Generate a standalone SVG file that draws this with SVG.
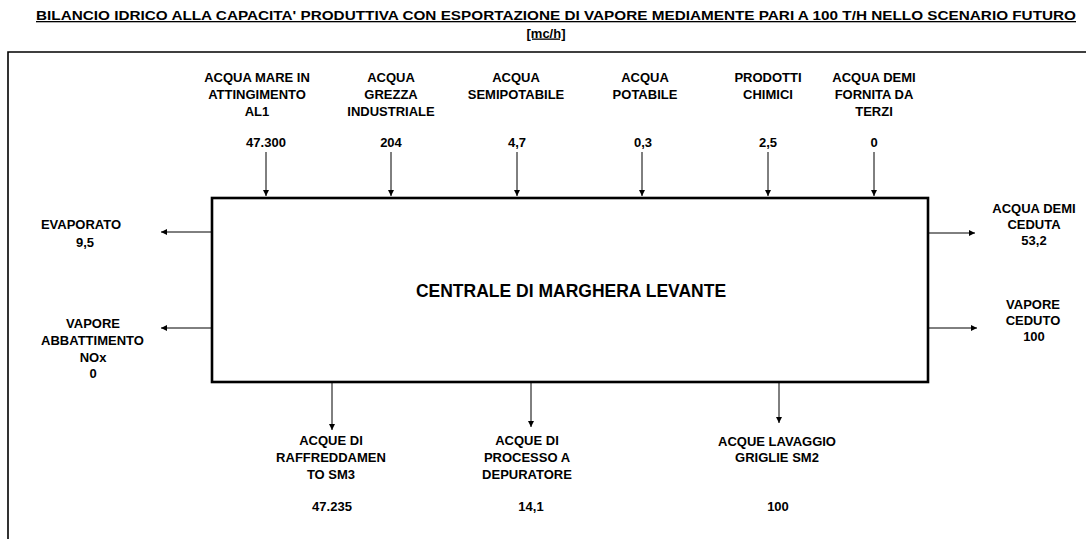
<svg xmlns="http://www.w3.org/2000/svg" width="1086" height="539" viewBox="0 0 1086 539">
<style>
text{font-family:"Liberation Sans",Arial,sans-serif;font-weight:bold;fill:#000;}
.t{font-size:13px;text-anchor:middle;}
.title{font-size:13px;text-anchor:middle;text-decoration:underline;}
.big{font-size:17.5px;text-anchor:middle;}
.c{stroke:#000;stroke-width:1;fill:none;}
</style>
<defs>
<marker id="ah" markerUnits="userSpaceOnUse" markerWidth="7" markerHeight="6" refX="6" refY="3" orient="auto">
<path d="M0,0 L6,3 L0,6 z" fill="#000"/>
</marker>
</defs>
<rect width="1086" height="539" fill="#fff"/>
<g id="title">
<text class="title" x="556" y="20" textLength="1040" lengthAdjust="spacingAndGlyphs">BILANCIO IDRICO ALLA CAPACITA' PRODUTTIVA CON ESPORTAZIONE DI VAPORE MEDIAMENTE PARI A 100 T/H NELLO SCENARIO FUTURO</text>
<text class="title" x="546" y="37.5">[mc/h]</text>
</g>
<path id="frame" d="M8,539 V52 H1086" fill="none" stroke="#000" stroke-width="1.6"/>
<g id="centrale">
<rect x="212" y="198" width="716" height="184" fill="#fff" stroke="#000" stroke-width="2.6"/>
<text class="big" x="571" y="296.5">CENTRALE DI MARGHERA LEVANTE</text>
</g>
<g id="connectors">
<line class="c" x1="266" y1="152" x2="266" y2="196" marker-end="url(#ah)"/>
<line class="c" x1="391" y1="152" x2="391" y2="196" marker-end="url(#ah)"/>
<line class="c" x1="517" y1="152" x2="517" y2="196" marker-end="url(#ah)"/>
<line class="c" x1="642" y1="152" x2="642" y2="196" marker-end="url(#ah)"/>
<line class="c" x1="768" y1="152" x2="768" y2="196" marker-end="url(#ah)"/>
<line class="c" x1="874" y1="152" x2="874" y2="196" marker-end="url(#ah)"/>
<line class="c" x1="211" y1="232" x2="161" y2="232" marker-end="url(#ah)"/>
<line class="c" x1="211" y1="328" x2="161" y2="328" marker-end="url(#ah)"/>
<line class="c" x1="929" y1="233" x2="975" y2="233" marker-end="url(#ah)"/>
<line class="c" x1="929" y1="328" x2="977" y2="328" marker-end="url(#ah)"/>
<line class="c" x1="332" y1="383" x2="332" y2="430" marker-end="url(#ah)"/>
<line class="c" x1="531" y1="383" x2="531" y2="427" marker-end="url(#ah)"/>
<line class="c" x1="779" y1="383" x2="779" y2="423" marker-end="url(#ah)"/>
</g>
<g id="in-acqua-mare">
<text class="t" x="257" y="82">ACQUA MARE IN</text>
<text class="t" x="257" y="99">ATTINGIMENTO</text>
<text class="t" x="257" y="116">AL1</text>
<text class="t" x="266" y="146.5">47.300</text>
</g>
<g id="in-acqua-grezza">
<text class="t" x="391" y="82">ACQUA</text>
<text class="t" x="391" y="99">GREZZA</text>
<text class="t" x="391" y="116">INDUSTRIALE</text>
<text class="t" x="391" y="146.5">204</text>
</g>
<g id="in-semipotabile">
<text class="t" x="516" y="82">ACQUA</text>
<text class="t" x="516" y="99">SEMIPOTABILE</text>
<text class="t" x="517" y="146.5">4,7</text>
</g>
<g id="in-potabile">
<text class="t" x="645" y="82">ACQUA</text>
<text class="t" x="645" y="99">POTABILE</text>
<text class="t" x="643" y="146.5">0,3</text>
</g>
<g id="in-chimici">
<text class="t" x="768" y="82">PRODOTTI</text>
<text class="t" x="768" y="99">CHIMICI</text>
<text class="t" x="768" y="146.5">2,5</text>
</g>
<g id="in-demi-terzi">
<text class="t" x="874" y="82">ACQUA DEMI</text>
<text class="t" x="874" y="99">FORNITA DA</text>
<text class="t" x="874" y="116">TERZI</text>
<text class="t" x="874" y="146.5">0</text>
</g>
<g id="out-evaporato">
<text class="t" x="81" y="229">EVAPORATO</text>
<text class="t" x="85" y="246.5">9,5</text>
</g>
<g id="out-vapore-nox">
<text class="t" x="93" y="328">VAPORE</text>
<text class="t" x="92.5" y="345">ABBATTIMENTO</text>
<text class="t" x="93" y="361.5">NOx</text>
<text class="t" x="93" y="377.5">0</text>
</g>
<g id="out-demi-ceduta">
<text class="t" x="1034" y="213">ACQUA DEMI</text>
<text class="t" x="1034" y="229">CEDUTA</text>
<text class="t" x="1034" y="245">53,2</text>
</g>
<g id="out-vapore-ceduto">
<text class="t" x="1033" y="309">VAPORE</text>
<text class="t" x="1033" y="325">CEDUTO</text>
<text class="t" x="1034" y="341">100</text>
</g>
<g id="out-raffreddamento">
<text class="t" x="331" y="445">ACQUE DI</text>
<text class="t" x="331" y="462">RAFFREDDAMEN</text>
<text class="t" x="331" y="478.5">TO SM3</text>
<text class="t" x="332" y="510.5">47.235</text>
</g>
<g id="out-depuratore">
<text class="t" x="527" y="445">ACQUE DI</text>
<text class="t" x="527" y="462">PROCESSO A</text>
<text class="t" x="527" y="478.5">DEPURATORE</text>
<text class="t" x="531" y="510.5">14,1</text>
</g>
<g id="out-lavaggio">
<text class="t" x="777" y="445.5">ACQUE LAVAGGIO</text>
<text class="t" x="777" y="462">GRIGLIE SM2</text>
<text class="t" x="778" y="510.5">100</text>
</g>
</svg>
